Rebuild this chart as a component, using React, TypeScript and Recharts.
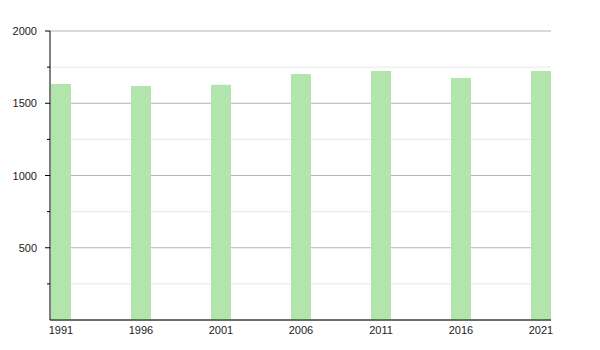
import { BarChart, Bar, XAxis, YAxis, CartesianGrid } from 'recharts';

const years = [1991, 1996, 2001, 2006, 2011, 2016, 2021];
const population = [1633, 1619, 1628, 1702, 1723, 1675, 1723];
const yTicks = [0, 250, 500, 750, 1000, 1250, 1500, 1750, 2000];
const yLabels = [500, 1000, 1500, 2000];

const data = years.map((year, i) => ({ year, value: population[i] }));

const FONT = '"Liberation Sans", Arial, sans-serif';

function YTick(props: any) {
  const { x, y, payload } = props;
  const v = payload.value;
  if (v === 0) return null;
  const major = yLabels.includes(v);
  return (
    <g>
      <line x1={x - (major ? 5 : 3)} x2={x} y1={y} y2={y} stroke="#000" />
      {major && (
        <text x={x - 13} y={y} dy={4} textAnchor="end" fontSize={11} fontFamily={FONT} fill="#222">
          {v}
        </text>
      )}
    </g>
  );
}

function GridLine(props: any) {
  const { x1, x2, y1, y2, index } = props;
  const major = index % 2 === 0;
  return <line x1={x1} x2={x2} y1={y1} y2={y2} stroke={major ? '#b4b4b4' : '#e6e6e6'} strokeWidth={1} />;
}

export default function App() {
  return (
    <div style={{ position: 'absolute', left: 0, top: 0, background: '#fff' }}>
      <BarChart
        width={600}
        height={350}
        data={data}
        margin={{ top: 31, right: 49, bottom: 10, left: 8 }}
      >
        <CartesianGrid vertical={false} horizontal={(p: any) => <GridLine {...p} />} />
        <XAxis
          dataKey="year"
          type="number"
          domain={[1990.3125, 2021.625]}
          ticks={years}
          interval={0}
          height={20}
          tickLine={false}
          tickMargin={0}
          axisLine={{ stroke: '#000' }}
          tick={{ fontSize: 11, fontFamily: FONT, fill: '#222' }}
        />
        <YAxis
          width={42}
          domain={[0, 2000]}
          ticks={yTicks}
          interval={0}
          tickSize={0}
          tickMargin={0}
          tickLine={false}
          axisLine={{ stroke: '#000' }}
          tick={<YTick />}
        />
        <Bar dataKey="value" fill="#b2e4ae" barSize={20} isAnimationActive={false} />
      </BarChart>
    </div>
  );
}
